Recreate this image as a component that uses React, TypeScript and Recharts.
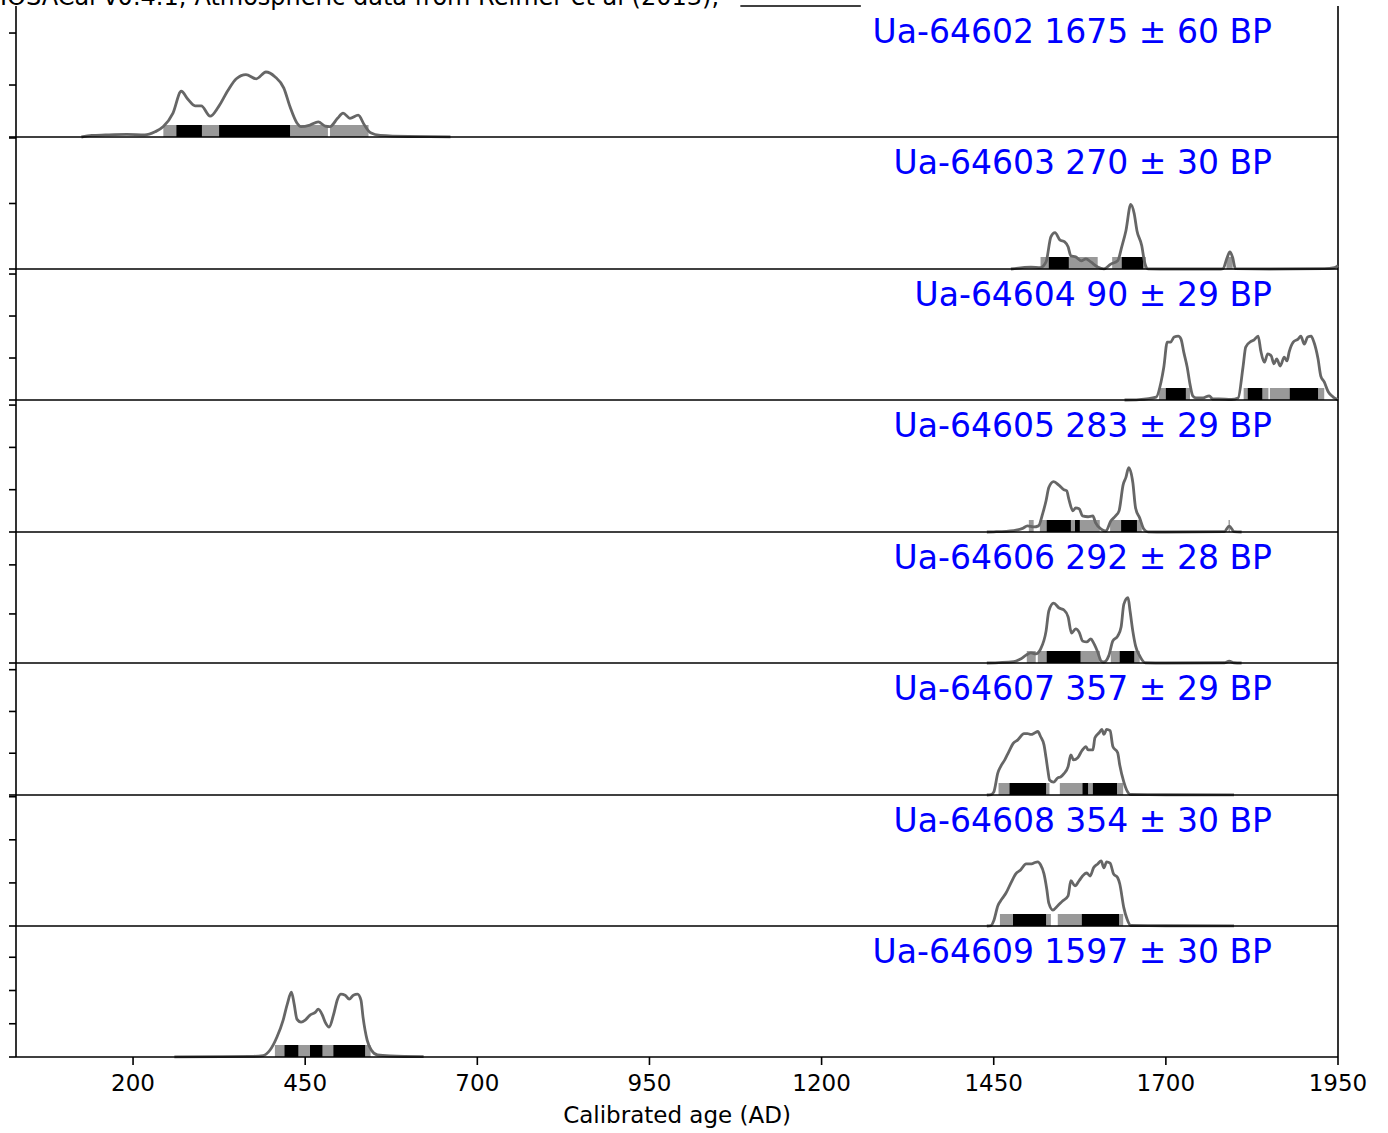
import React from "react";
import { ComposedChart, Line, XAxis, YAxis, ReferenceArea, ReferenceLine } from "recharts";

// calibrated age axis (AD)
const ageDomain = [30, 1950];
const ageTicks = [200, 450, 700, 950, 1200, 1450, 1700, 1950];

const sampleLabels = [
  "Ua-64602 1675 ± 60 BP",
  "Ua-64603 270 ± 30 BP",
  "Ua-64604 90 ± 29 BP",
  "Ua-64605 283 ± 29 BP",
  "Ua-64606 292 ± 28 BP",
  "Ua-64607 357 ± 29 BP",
  "Ua-64608 354 ± 30 BP",
  "Ua-64609 1597 ± 30 BP",
];

// calibrated probability, per mille per year: [year AD, density]
const ua64602 = [
  [125, 0], [140, 0.15], [160, 0.2], [191, 0.25], [217, 0.2], [232, 0.5], [244, 1.0], [258, 2.3],
  [270, 4.4], [280, 3.6], [290, 3.0], [299, 3.0], [312, 2.0], [324, 2.9], [338, 4.5], [350, 5.6],
  [364, 6.0], [379, 5.6], [393, 6.25], [406, 5.8], [419, 4.7], [428, 2.9], [438, 1.35], [444, 1.0],
  [457, 1.15], [469, 1.45], [479, 1.05], [486, 1.0], [497, 1.8], [505, 2.3], [515, 1.8], [527, 2.1],
  [536, 1.15], [545, 0.4], [559, 0.15], [600, 0.05], [661, 0.02],
];
const ua64603 = [
  [1475, 0], [1504, 0.6], [1518, 0.45], [1526, 2.15], [1533, 9.8], [1539, 11.1], [1546, 8.9],
  [1553, 8.3], [1558, 6.8], [1562, 4.0], [1569, 3.7], [1577, 2.5], [1584, 3.1], [1591, 2.15],
  [1601, 0.6], [1610, 0.05], [1620, 1.5], [1630, 2.5], [1636, 6.8], [1642, 11.7], [1649, 19.7],
  [1654, 16.9], [1658, 11.7], [1665, 7.1], [1669, 2.15], [1674, 0.05], [1700, 0], [1780, 0],
  [1783, 0.1], [1789, 3.5], [1793, 5.2], [1797, 3.5], [1801, 0.1], [1850, 0], [1930, 0.1],
  [1945, 0.4], [1950, 1.0],
];
const ua64604 = [
  [1640, 0], [1661, 0.05], [1686, 0.35], [1693, 2.15], [1697, 3.9], [1702, 6.9], [1707, 6.9],
  [1712, 7.5], [1718, 7.6], [1722, 7.25], [1726, 5.7], [1731, 3.9], [1735, 1.9], [1739, 0.5],
  [1744, 0.25], [1754, 0.25], [1763, 0.5], [1768, 0.12], [1777, 0.12], [1795, 0.06], [1805, 0.25],
  [1812, 3.9], [1816, 6.3], [1824, 7.0], [1828, 7.15], [1834, 7.6], [1838, 5.8], [1843, 4.5],
  [1848, 5.5], [1853, 5.25], [1857, 4.3], [1861, 4.9], [1866, 4.05], [1872, 5.1], [1876, 4.65],
  [1879, 5.7], [1885, 6.9], [1892, 7.25], [1896, 7.6], [1901, 6.65], [1906, 7.5], [1911, 7.6],
  [1915, 6.9], [1921, 4.9], [1925, 2.85], [1930, 2.15], [1936, 0.95], [1943, 0.35], [1950, 0.05],
];
const ua64605 = [
  [1440, 0], [1450, 0.05], [1479, 0.35], [1492, 0.85], [1499, 1.45], [1508, 1.2], [1515, 1.45],
  [1521, 4.3], [1526, 7.4], [1530, 10.5], [1537, 11.9], [1545, 11.0], [1552, 10.0], [1556, 9.75],
  [1559, 7.85], [1565, 5.0], [1569, 5.7], [1574, 5.5], [1579, 3.8], [1587, 3.6], [1594, 3.8],
  [1598, 2.15], [1606, 0.7], [1613, 0.25], [1620, 2.6], [1627, 3.8], [1632, 5.0], [1638, 11.2],
  [1642, 12.9], [1646, 15.2], [1652, 11.7], [1656, 5.7], [1662, 3.3], [1668, 0.7], [1674, 0.05],
  [1700, 0], [1785, 0.1], [1792, 1.4], [1799, 0.1], [1810, 0],
];
const ua64606 = [
  [1440, 0], [1479, 0.3], [1489, 0.8], [1497, 1.6], [1504, 2.05], [1511, 1.85], [1518, 2.85],
  [1526, 6.5], [1530, 10.6], [1537, 12.2], [1545, 11.2], [1552, 10.8], [1558, 9.4], [1563, 6.1],
  [1569, 6.95], [1574, 6.3], [1579, 4.5], [1585, 4.3], [1591, 4.9], [1595, 4.1], [1601, 2.25],
  [1606, 0.4], [1610, 0.2], [1617, 1.45], [1623, 4.5], [1630, 5.5], [1635, 7.35], [1639, 12.0],
  [1645, 13.3], [1648, 10.6], [1652, 6.5], [1656, 3.5], [1662, 1.45], [1670, 0.05], [1700, 0],
  [1785, 0.05], [1792, 0.4], [1799, 0.05], [1810, 0],
];
const ua64607 = [
  [1440, 0], [1446, 0.05], [1450, 0.35], [1456, 2.65], [1460, 3.4], [1466, 4.2], [1472, 5.2],
  [1478, 6.15], [1485, 6.6], [1494, 7.35], [1499, 7.35], [1504, 7.25], [1510, 7.45], [1514, 7.6],
  [1518, 7.0], [1523, 6.0], [1526, 4.45], [1529, 2.75], [1531, 1.8], [1537, 1.55], [1543, 2.05],
  [1547, 2.15], [1552, 2.55], [1558, 3.4], [1562, 4.8], [1566, 4.2], [1572, 4.45], [1578, 5.3],
  [1584, 5.8], [1587, 5.4], [1594, 5.4], [1597, 6.85], [1603, 7.45], [1607, 7.85], [1610, 7.25],
  [1614, 7.85], [1619, 7.7], [1623, 5.8], [1630, 5.05], [1633, 3.6], [1639, 1.55], [1643, 0.6],
  [1649, 0.06], [1700, 0.03], [1799, 0.02],
];
const ua64608 = [
  [1440, 0], [1446, 0.05], [1450, 0.6], [1456, 2.35], [1462, 3.15], [1468, 3.85], [1475, 5.0],
  [1482, 6.05], [1489, 6.5], [1497, 7.2], [1504, 7.2], [1508, 7.3], [1514, 7.45], [1518, 7.1],
  [1523, 6.05], [1527, 4.3], [1530, 2.65], [1536, 1.85], [1543, 2.35], [1550, 2.9], [1558, 3.5],
  [1562, 5.25], [1568, 4.65], [1574, 5.25], [1579, 5.8], [1585, 6.15], [1590, 5.8], [1595, 6.75],
  [1601, 7.2], [1606, 7.55], [1610, 6.75], [1614, 7.45], [1619, 7.3], [1624, 6.05], [1630, 5.6],
  [1633, 4.9], [1639, 2.1], [1643, 0.95], [1649, 0.06], [1700, 0.03], [1799, 0.02],
];
const ua64609 = [
  [260, 0.02], [330, 0.05], [370, 0.08], [389, 0.22], [399, 1.05], [409, 3.0], [418, 5.55],
  [424, 7.95], [430, 9.75], [434, 7.95], [438, 5.7], [444, 5.25], [450, 5.55], [457, 6.3],
  [465, 6.75], [469, 7.2], [475, 6.3], [479, 5.25], [485, 4.5], [491, 6.3], [497, 8.7], [502, 9.45],
  [508, 9.3], [514, 8.7], [520, 9.3], [526, 9.45], [531, 8.55], [534, 6.0], [540, 2.55],
  [546, 1.05], [555, 0.3], [574, 0.15], [622, 0.05],
];
const curves = [ua64602, ua64603, ua64604, ua64605, ua64606, ua64607, ua64608, ua64609];

// 95.4% and 68.2% calibrated ranges, [from, to] AD
const ranges95 = [
  [[244, 483], [486, 542]],
  [[1518, 1601], [1622, 1671], [1788, 1797]],
  [[1690, 1735], [1813, 1849], [1851, 1930]],
  [[1501, 1508], [1517, 1604], [1619, 1665], [1791, 1793]],
  [[1498, 1511], [1514, 1604], [1620, 1662]],
  [[1457, 1531], [1546, 1638]],
  [[1459, 1533], [1543, 1638]],
  [[406, 545]],
];
const ranges68 = [
  [[263, 300], [325, 428]],
  [[1530, 1559], [1636, 1667]],
  [[1700, 1729], [1819, 1840], [1880, 1921]],
  [[1527, 1562], [1568, 1575], [1635, 1658]],
  [[1527, 1576], [1633, 1654]],
  [[1473, 1526], [1579, 1587], [1594, 1629]],
  [[1478, 1526], [1578, 1632]],
  [[420, 440], [457, 475], [491, 537]],
];

// density axis of every panel
const densityMax = [12.6, 40.3, 15.6, 31.2, 26.7, 15.8, 15.2, 19.7];
const densityTicks = [
  [0, 5, 10],
  [0, 20, 40],
  [0, 5, 10, 15],
  [0, 10, 20, 30],
  [0, 10, 20],
  [0, 5, 10, 15],
  [0, 5, 10, 15],
  [0, 5, 10, 15],
];

const W = 1388;
const H = 1133;
const PLOT_LEFT = 16;
const PLOT_RIGHT = 1338;
const panelTops = [6, 137, 269, 400, 532, 663, 795, 926, 1057];
const PAD = 4;
const AXIS_H = 76;
const BAR_PX = 12;
const axisStroke = { stroke: "#000", strokeWidth: 1.6 };
const noLabel = () => "";

function Panel({ i }: { i: number }) {
  const last = i === curves.length - 1;
  const top = panelTops[i];
  const h = panelTops[i + 1] - top;
  const yMax = densityMax[i];
  const barTop = (yMax * BAR_PX) / h;
  const data = curves[i].map(([year, p]) => ({ year, p }));
  const chartH = PAD + h + (last ? AXIS_H : PAD);
  return (
    <div style={{ position: "absolute", left: 0, top: top - PAD, width: W, height: chartH }}>
      <ComposedChart
        width={W}
        height={chartH}
        data={data}
        margin={{ top: PAD, right: W - PLOT_RIGHT, bottom: 0, left: PLOT_LEFT - 2 }}
      >
        <XAxis
          dataKey="year"
          type="number"
          domain={ageDomain}
          ticks={ageTicks}
          height={last ? AXIS_H : PAD}
          axisLine={axisStroke}
          tickLine={last ? axisStroke : false}
          tickSize={last ? 8 : 0}
          tickMargin={10}
          tick={last ? { fill: "#000", fontSize: 23 } : false}
          label={
            last
              ? { value: "Calibrated age (AD)", position: "insideBottom", offset: 10, fill: "#000", fontSize: 23 }
              : undefined
          }
        />
        <YAxis
          type="number"
          domain={[0, yMax]}
          ticks={densityTicks[i]}
          width={2}
          tickFormatter={noLabel}
          tickSize={7}
          axisLine={axisStroke}
          tickLine={axisStroke}
        />
        {ranges95[i].map(([a, b]) => (
          <ReferenceArea key={"g" + a} x1={a} x2={b} y1={0} y2={barTop} fill="#999999" fillOpacity={1} stroke="none" />
        ))}
        {ranges68[i].map(([a, b]) => (
          <ReferenceArea key={"k" + a} x1={a} x2={b} y1={0} y2={barTop} fill="#000000" fillOpacity={1} stroke="none" />
        ))}
        <ReferenceLine x={ageDomain[1]} stroke="#000" strokeWidth={1.6} />
        {i === 0 && (
          <ReferenceLine
            segment={[{ x: 1082, y: yMax }, { x: 1257, y: yMax }]}
            stroke="#000"
            strokeWidth={1.6}
          />
        )}
        <Line
          type="monotone"
          dataKey="p"
          stroke="#666666"
          strokeWidth={2.8}
          dot={false}
          activeDot={false}
          isAnimationActive={false}
        />
      </ComposedChart>
    </div>
  );
}

export default function App() {
  return (
    <div
      style={{
        position: "absolute",
        left: 0,
        top: 0,
        width: W,
        height: H,
        background: "#fff",
        fontFamily: "'DejaVu Sans', sans-serif",
        overflow: "hidden",
      }}
    >
      {curves.map((_, i) => (
        <Panel key={i} i={i} />
      ))}
      <svg width={W} height={H} style={{ position: "absolute", left: 0, top: 0, pointerEvents: "none" }}>
        <text x={0} y={5} fontSize={24} fill="#000">
          IOSACal v0.4.1; Atmospheric data from Reimer et al (2013);
        </text>
        {sampleLabels.map((s, i) => (
          <text key={s} x={1272} y={panelTops[i] + 37} fontSize={33} fill="#0000ff" textAnchor="end">
            {s}
          </text>
        ))}
      </svg>
    </div>
  );
}
